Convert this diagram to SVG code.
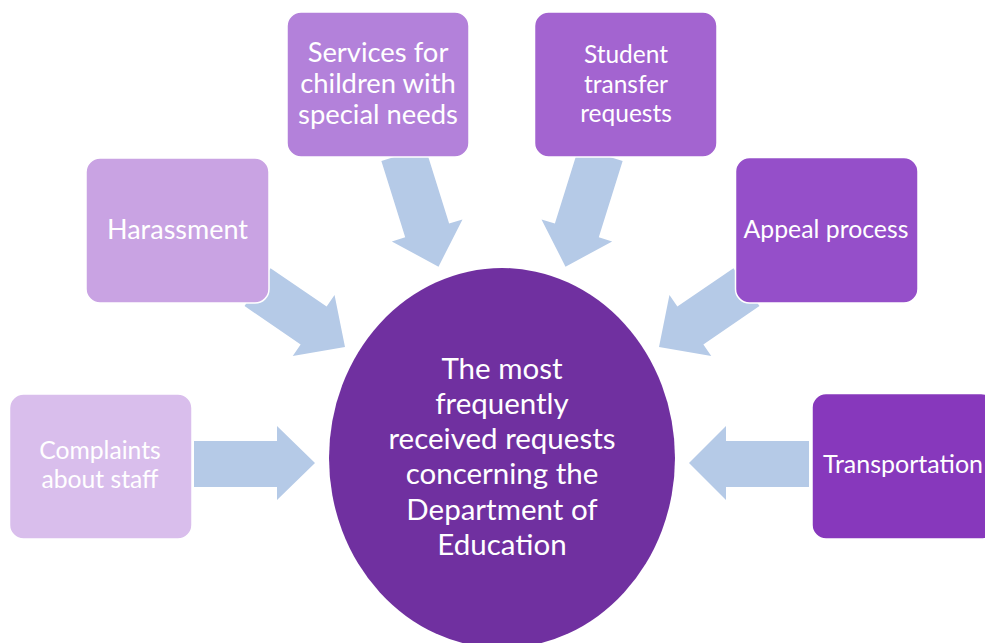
<svg xmlns="http://www.w3.org/2000/svg" width="985" height="643" viewBox="0 0 985 643">
<style>
.arrow{fill:#B5CAE7;}
.box{stroke:#FFFFFF;stroke-width:1.5;}
.t{fill:#FFFFFF;font-family:Lato,"Open Sans","Liberation Sans",sans-serif;text-anchor:middle;}
</style>
<rect width="985" height="643" fill="#FFFFFF"/>
<g id="connectors">
<path class="arrow" d="M194,441 L277,441 L277,426 L315,463 L277,500 L277,487 L194,487 Z"/>
<path class="arrow" d="M809,441 L726,441 L726,426 L689,463 L726,500 L726,487 L809,487 Z"/>
<path class="arrow" transform="translate(345,347) rotate(34.4)" d="M-106,-23 L-38,-23 L-38,-37 L0,0 L-38,37 L-38,23 L-106,23 Z"/>
<path class="arrow" transform="translate(659,347) rotate(145.6)" d="M-106,-23 L-38,-23 L-38,-37 L0,0 L-38,37 L-38,23 L-106,23 Z"/>
<path class="arrow" transform="translate(438.5,266.7) rotate(72.65)" d="M-118,-23 L-38,-23 L-38,-37 L0,0 L-38,37 L-38,23 L-118,23 Z"/>
<path class="arrow" transform="translate(565.5,266.7) rotate(107.35)" d="M-118,-23 L-38,-23 L-38,-37 L0,0 L-38,37 L-38,23 L-118,23 Z"/>
</g>
<g id="center">
<ellipse cx="502" cy="458" rx="173" ry="190" fill="#7030A0"/>
<text class="t" font-size="29.5" x="502" y="379">The most</text>
<text class="t" font-size="29.5" x="502" y="414">frequently</text>
<text class="t" font-size="29.5" x="502" y="449">received requests</text>
<text class="t" font-size="29.5" x="502" y="484">concerning the</text>
<text class="t" font-size="29.5" x="502" y="520">Department of</text>
<text class="t" font-size="29.5" x="502" y="555">Education</text>
</g>
<g id="complaints">
<rect class="box" x="9.5" y="394" width="182.5" height="145" rx="14" fill="#D9BEEC"/>
<text class="t" font-size="24.7" x="100" y="459">Complaints</text>
<text class="t" font-size="24.7" x="100" y="488">about staff</text>
</g>
<g id="harassment">
<rect class="box" x="86" y="158" width="183" height="145" rx="14" fill="#C9A3E3"/>
<text class="t" font-size="27" x="177.5" y="239">Harassment</text>
</g>
<g id="services">
<rect class="box" x="287" y="12" width="182" height="145" rx="14" fill="#B381DA"/>
<text class="t" font-size="27.4" x="378" y="62">Services for</text>
<text class="t" font-size="27.4" x="378" y="93">children with</text>
<text class="t" font-size="27.4" x="378" y="124">special needs</text>
</g>
<g id="student">
<rect class="box" x="534.5" y="12" width="182.5" height="145" rx="14" fill="#A364D0"/>
<text class="t" font-size="24.5" x="626" y="63">Student</text>
<text class="t" font-size="24.5" x="626" y="93">transfer</text>
<text class="t" font-size="24.5" x="626" y="122">requests</text>
</g>
<g id="appeal">
<rect class="box" x="735.5" y="157.5" width="182.5" height="145.5" rx="14" fill="#954FC9"/>
<text class="t" font-size="24.8" x="826" y="238">Appeal process</text>
</g>
<g id="transportation">
<rect class="box" x="812" y="393.5" width="183" height="145.5" rx="14" fill="#8738BC"/>
<text class="t" font-size="25" x="903" y="473">Transportation</text>
</g>
</svg>
